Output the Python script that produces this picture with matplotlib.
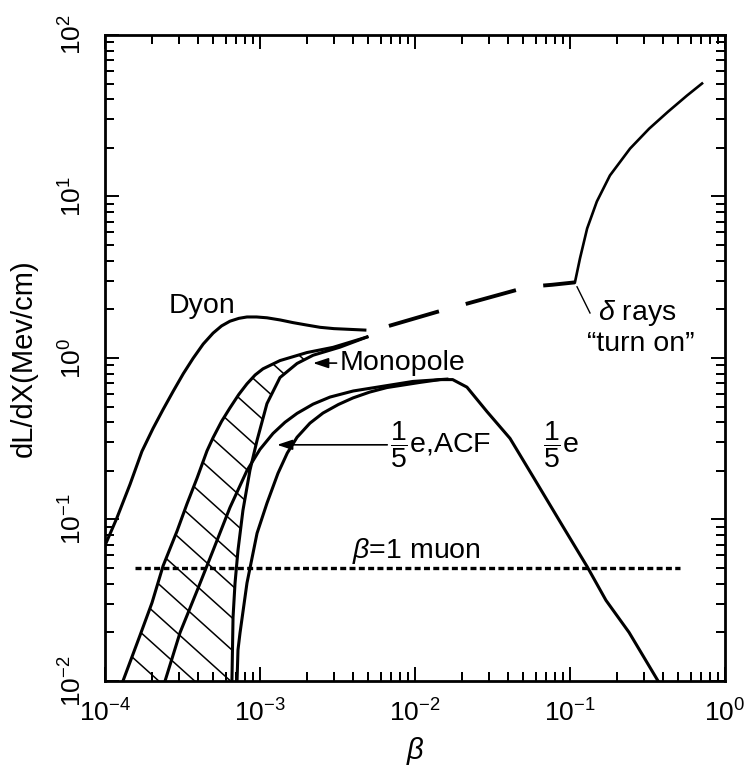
import numpy as np
import matplotlib
matplotlib.use("Agg")
import matplotlib.pyplot as plt
import matplotlib.transforms as mtransforms
from matplotlib.collections import LineCollection
from matplotlib.ticker import LogLocator, NullFormatter, FixedLocator

plt.rcParams['font.family'] = ['Liberation Sans', 'DejaVu Sans']
plt.rcParams['mathtext.fontset'] = 'custom'
plt.rcParams['mathtext.rm'] = 'Liberation Sans'
plt.rcParams['mathtext.it'] = 'Liberation Sans:italic'
plt.rcParams['mathtext.bf'] = 'Liberation Sans:bold'
plt.rcParams['lines.scale_dashes'] = False

# ---------------- data ----------------
dyon_beta = [1.0e-4, 1.19e-4, 1.45e-4, 1.73e-4, 2.04e-4, 2.37e-4, 2.75e-4, 3.20e-4, 3.70e-4,
             4.30e-4, 4.98e-4, 5.65e-4, 6.40e-4, 7.30e-4, 8.24e-4, 9.50e-4, 1.109e-3,
             1.35e-3, 1.633e-3, 2.0e-3, 2.44e-3, 3.0e-3, 3.64e-3, 4.75e-3]
dyon_dl = [0.069, 0.1016, 0.165, 0.264, 0.366, 0.48, 0.621, 0.80, 0.995,
           1.22, 1.426, 1.58, 1.69, 1.76, 1.795, 1.795, 1.774,
           1.72, 1.656, 1.60, 1.549, 1.52, 1.507, 1.489]

mono_upper_beta = [1.306e-4, 1.68e-4, 2.01e-4, 2.37e-4, 2.92e-4, 3.38e-4, 3.93e-4, 4.55e-4,
                   4.98e-4, 5.65e-4, 6.40e-4, 7.30e-4, 8.24e-4, 9.30e-4, 1.045e-3, 1.346e-3,
                   2.01e-3, 2.96e-3, 4.9e-3]
mono_upper_dl = [0.01, 0.0191, 0.0305, 0.0516, 0.0851, 0.125, 0.181, 0.266,
                 0.321, 0.405, 0.491, 0.595, 0.692, 0.785, 0.857, 0.964,
                 1.081, 1.164, 1.349]

mono_lower_beta = [6.59e-4, 6.70e-4, 6.90e-4, 7.21e-4, 7.76e-4, 8.61e-4, 9.57e-4,
                   1.109e-3, 1.346e-3, 1.734e-3, 2.20e-3, 3.28e-3, 4.9e-3]
mono_lower_dl = [0.01, 0.0248, 0.0403, 0.0644, 0.1138, 0.2014, 0.309,
                 0.522, 0.757, 0.925, 1.04, 1.167, 1.349]

acf_beta = [2.44e-4, 3.05e-4, 3.93e-4, 4.98e-4, 6.40e-4, 8.24e-4, 1.0e-3,
            1.213e-3, 1.45e-3, 1.734e-3, 2.2e-3, 2.83e-3, 4.0e-3, 5.94e-3, 9.70e-3, 1.607e-2]
acf_dl = [0.01, 0.01995, 0.0363, 0.0643, 0.1186, 0.201, 0.272,
          0.341, 0.400, 0.454, 0.518, 0.573, 0.625, 0.664, 0.716, 0.740]

fifth_beta = [7.11e-4, 7.21e-4, 7.43e-4, 8.24e-4, 9.57e-4, 1.109e-3, 1.306e-3, 1.50e-3,
              1.734e-3, 2.1e-3, 2.547e-3, 3.2e-3, 3.98e-3, 5.1e-3, 6.59e-3, 1.076e-2,
              1.45e-2, 1.75e-2, 2.163e-2, 2.917e-2, 4.10e-2, 5.86e-2, 9.02e-2, 0.1288,
              0.1706, 0.2404, 0.370]
fifth_dl = [0.01, 0.01556, 0.01982, 0.0404, 0.0822, 0.1262, 0.1932, 0.258,
            0.323, 0.395, 0.456, 0.515, 0.566, 0.615, 0.656, 0.706,
            0.735, 0.735, 0.660, 0.465, 0.318, 0.180, 0.0902, 0.0512,
            0.0316, 0.0200, 0.01]

dashed_beta = [6.79e-3, 1.387e-2, 2.2e-2, 5.36e-2, 7.66e-2, 0.1076]
dashed_dl = [1.58, 1.93, 2.18, 2.76, 2.84, 2.94]

delta_beta = [0.1076, 0.116, 0.129, 0.149, 0.181, 0.244, 0.324, 0.429, 0.569, 0.711]
delta_dl = [2.94, 4.14, 6.34, 9.31, 13.5, 19.8, 26.3, 33.5, 42.2, 50.1]

muon_beta = [1.56e-4, 0.51]
muon_dl = [0.05, 0.05]

x_minor = [m * 10.0 ** e for e in range(-4, 0) for m in range(2, 10)]
y_minor = [m * 10.0 ** e for e in range(-2, 2) for m in range(2, 10)]

# ---------------- figure ----------------
W, H = 748, 769
fig = plt.figure(figsize=(W / 100, H / 100), dpi=100)
ax = fig.add_axes([105 / W, 1 - 681 / H, 620 / W, 646 / H])
ax.set_xscale('log')
ax.set_yscale('log')
ax.set_xlim(1e-4, 1)
ax.set_ylim(1e-2, 1e2)
ax.set_autoscale_on(False)

k = 'black'
lw = 2.2
ax.plot(dyon_beta, dyon_dl, color=k, lw=lw, solid_joinstyle='round')
ax.plot(mono_upper_beta, mono_upper_dl, color=k, lw=lw, solid_joinstyle='round')
ax.plot(mono_lower_beta, mono_lower_dl, color=k, lw=lw, solid_joinstyle='round')
ax.plot(acf_beta, acf_dl, color=k, lw=lw, solid_joinstyle='round')
ax.plot(fifth_beta, fifth_dl, color=k, lw=lw, solid_joinstyle='round')
ax.plot(dashed_beta, dashed_dl, color=k, lw=2.8, dashes=(37.5, 20), dash_capstyle='butt')
ax.plot(delta_beta, delta_dl, color=k, lw=1.9, solid_joinstyle='round')
ax.plot(muon_beta, muon_dl, color=k, lw=2.4, dashes=(4.3, 2.4), dash_capstyle='butt')

# hatched monopole band
poly_x = list(mono_upper_beta) + list(mono_lower_beta[::-1])
poly_y = list(mono_upper_dl) + list(mono_lower_dl[::-1])
band = ax.fill(poly_x, poly_y, facecolor='none', edgecolor='none')[0]

aw, ah = 620.0, 646.0
ang = np.deg2rad(42)
d = np.array([np.cos(ang), -np.sin(ang)])
nrm = np.array([np.sin(ang), np.cos(ang)])
spacing = 24.0
segs = []
for c in np.arange(-1500, 1500, spacing):
    p = c * nrm
    a = p - 3000 * d
    b = p + 3000 * d
    segs.append([(a[0] / aw, a[1] / ah), (b[0] / aw, b[1] / ah)])
lc = LineCollection(segs, colors=k, linewidths=1.1, transform=ax.transAxes)
ax.add_collection(lc, autolim=False)
lc.set_clip_path(band)

# ---------------- annotations ----------------
fs = 20.5
arrow = dict(arrowstyle='-|>,head_length=0.45,head_width=0.15', color=k,
             lw=1.2, shrinkA=0, shrinkB=0)
ax.text(4.23e-4, 2.09, 'Dyon', fontsize=fs, ha='center', va='center')
ax.annotate('Monopole', xy=(2.2e-3, 0.93), xytext=(3.25e-3, 0.93), fontsize=fs,
            ha='left', va='center', arrowprops=arrow)
ax.annotate(r'$\dfrac{1}{5}$e,ACF', xy=(1.29e-3, 0.29), xytext=(6.9e-3, 0.29),
            fontsize=fs, ha='left', va='center', arrowprops=arrow)
ax.text(0.067, 0.29, r'$\dfrac{1}{5}$e', fontsize=fs, ha='left', va='center')
ax.text(0.27, 1.90, r'$\delta$ rays', fontsize=fs, ha='center', va='center')
ax.text(0.287, 1.22, '\u201cturn on\u201d', fontsize=fs, ha='center', va='center')
ax.plot([0.111, 0.1346], [2.76, 1.90], color=k, lw=1.0)
ax.text(0.01014, 0.0634, r'$\beta$=1 muon', fontsize=fs, ha='center', va='center')

ax.set_ylabel('dL/dX(Mev/cm)', fontsize=21, labelpad=16)
ax.set_xlabel(r'$\beta$', fontsize=21, labelpad=6)

# ---------------- ticks / axes ----------------
for s in ax.spines.values():
    s.set_linewidth(2.0)
for axis in (ax.xaxis, ax.yaxis):
    axis.set_major_locator(LogLocator(base=10, numticks=20))
    axis.set_minor_formatter(NullFormatter())
ax.xaxis.set_minor_locator(FixedLocator(x_minor))
ax.yaxis.set_minor_locator(FixedLocator(y_minor))
ax.tick_params(which='both', direction='in', top=True, right=True, width=1.4)
ax.tick_params(which='major', length=10, labelsize=19, pad=13)
ax.tick_params(which='minor', length=6.5, width=1.4)
ax.tick_params(axis='y', which='major', labelrotation=90)
for lab in ax.get_yticklabels():
    lab.set_va('center')

# minor tick marks drawn on the spines as well (coincide with the axis minor ticks)
Lx = 6.5 * 100 / 72 / ah
Ly = 6.5 * 100 / 72 / aw
tx = mtransforms.blended_transform_factory(ax.transData, ax.transAxes)
ty = mtransforms.blended_transform_factory(ax.transAxes, ax.transData)
xseg = [[(v, 0), (v, Lx)] for v in x_minor] + [[(v, 1), (v, 1 - Lx)] for v in x_minor]
yseg = [[(0, v), (Ly, v)] for v in y_minor] + [[(1, v), (1 - Ly, v)] for v in y_minor]
ax.add_collection(LineCollection(xseg, colors=k, linewidths=1.4, transform=tx,
                                 clip_on=False, capstyle='butt'), autolim=False)
ax.add_collection(LineCollection(yseg, colors=k, linewidths=1.4, transform=ty,
                                 clip_on=False, capstyle='butt'), autolim=False)

fig.canvas.draw()
fig.savefig('out.png', dpi=100)
